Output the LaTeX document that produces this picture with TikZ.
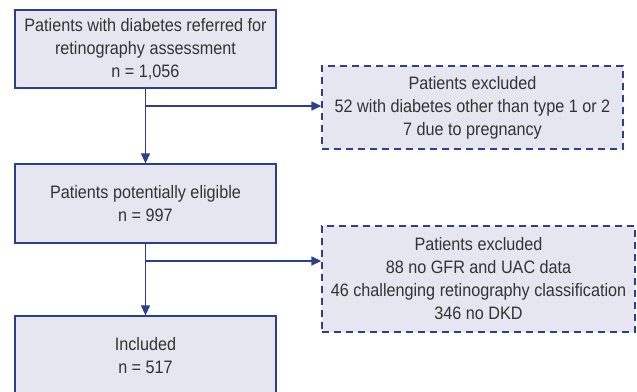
\documentclass[tikz,border=0pt]{standalone}
\usepackage{fontspec}
\setmainfont{Liberation Sans}[FakeStretch=0.9]
\usetikzlibrary{arrows.meta}

\definecolor{flowblue}{HTML}{2B3F8C}
\definecolor{flowfill}{HTML}{E6E6F0}
\definecolor{flowtext}{HTML}{333333}

\tikzstyle{stagebox} = [rectangle, draw=flowblue, line width=1.3pt, fill=flowfill, text=flowtext, align=center, inner sep=0pt, font=\fontsize{18}{23}\selectfont]
\tikzstyle{excludebox} = [stagebox, dashed, dash pattern=on 7pt off 5pt]
\tikzstyle{flowarrow} = [draw=flowblue, line width=1.3pt, -{Triangle[length=10pt,width=9pt]}]

\begin{document}
\begin{tikzpicture}[x=1pt, y=-1pt]
        \useasboundingbox (0,0) rectangle (637,391);
        \begin{scope}
        \clip (0,0) rectangle (637,391);
        \node (ref)  [stagebox, minimum width=261pt, minimum height=78pt] at (145.5,49) {Patients with diabetes referred for\\retinography assessment\\n = 1,056};
        \node (elig) [stagebox, minimum width=261pt, minimum height=79pt] at (145.5,203.5) {Patients potentially eligible\\n = 997};
        \node (incl) [stagebox, minimum width=261pt, minimum height=79pt] at (145.5,355.5) {Included\\n = 517};

        \node (excla) [excludebox, minimum width=301pt, minimum height=83pt] at (472.5,107.5) {Patients excluded\\52 with diabetes other than type 1 or 2\\7 due to pregnancy};
        \node (exclb) [excludebox, minimum width=313pt, minimum height=106pt] at (478.5,279) {Patients excluded\\88 no GFR and UAC data\\46 challenging retinography classification\\346 no DKD};

        \coordinate (splita) at (145.5,106);
        \coordinate (splitb) at (145.5,261);

        \draw [flowarrow] (ref) -- (elig);
        \draw [flowarrow] (elig) -- (incl);
        \draw [flowarrow] (splita) -- (splita -| excla.west);
        \draw [flowarrow] (splitb) -- (splitb -| exclb.west);
        \end{scope}
    \end{tikzpicture}
\end{document}
